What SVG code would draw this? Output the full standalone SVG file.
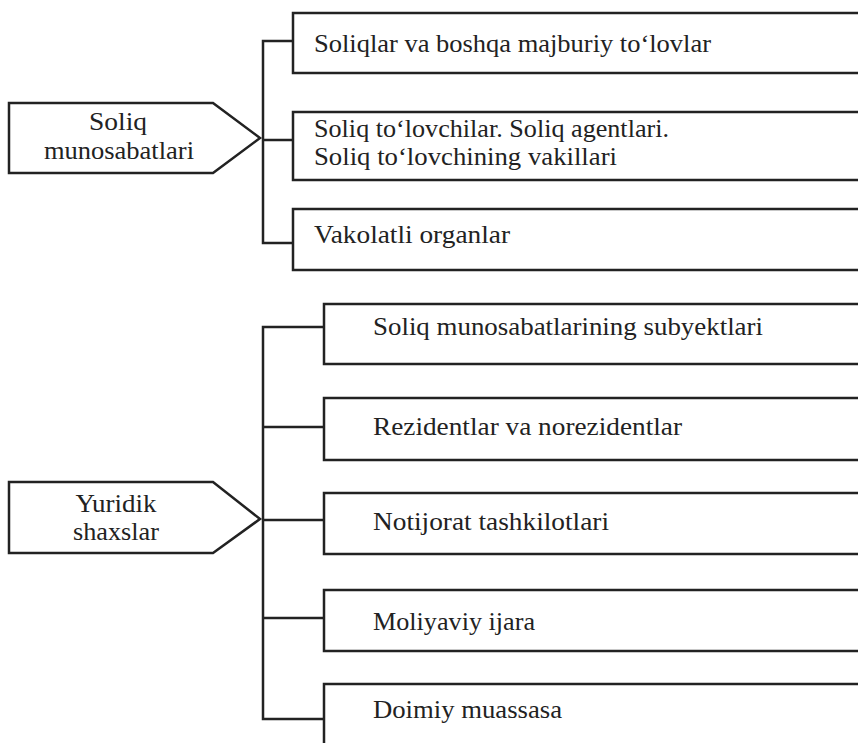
<svg xmlns="http://www.w3.org/2000/svg" width="858" height="743" viewBox="0 0 858 743">
  <style>
    .ln { fill: none; stroke: #222; stroke-width: 2.5; stroke-linejoin: miter; }
    .tx { font-family: 'Liberation Serif', 'DejaVu Serif', 'Times New Roman', Times, serif; font-size: 26px; fill: #222; }
    .mid { text-anchor: middle; }
  </style>
  <rect width="858" height="743" fill="#fff"/>

  <!-- connectors: brackets from each arrow node to its list -->
  <g id="connectors">
    <path class="ln" d="M293,41 H263 V243 H293 M263,140 H293"/>
    <path class="ln" d="M324,327 H263 V719 H324 M263,427 H324 M263,520 H324 M263,618 H324"/>
  </g>

  <!-- upper group -->
  <g id="soliq-munosabatlari">
    <path class="ln" d="M9,103 H213 L260,138 L213,173 H9 Z"/>
    <text class="tx mid" x="118" y="130" textLength="58" lengthAdjust="spacingAndGlyphs">Soliq</text>
    <text class="tx mid" x="119" y="159" textLength="150" lengthAdjust="spacingAndGlyphs">munosabatlari</text>
  </g>
  <g id="soliqlar">
    <path class="ln" d="M858,13 H293 V73 H858"/>
    <text class="tx" x="314" y="52" textLength="397" lengthAdjust="spacingAndGlyphs">Soliqlar va boshqa majburiy to‘lovlar</text>
  </g>
  <g id="soliq-tolovchilar">
    <path class="ln" d="M858,112 H293 V180 H858"/>
    <text class="tx" x="314" y="137" textLength="355" lengthAdjust="spacingAndGlyphs">Soliq to‘lovchilar. Soliq agentlari.</text>
    <text class="tx" x="314" y="165" textLength="303" lengthAdjust="spacingAndGlyphs">Soliq to‘lovchining vakillari</text>
  </g>
  <g id="vakolatli-organlar">
    <path class="ln" d="M858,209 H293 V270 H858"/>
    <text class="tx" x="314" y="243" textLength="196" lengthAdjust="spacingAndGlyphs">Vakolatli organlar</text>
  </g>

  <!-- lower group -->
  <g id="yuridik-shaxslar">
    <path class="ln" d="M9,482 H213 L260,519 L213,553 H9 Z"/>
    <text class="tx mid" x="116" y="512" textLength="81" lengthAdjust="spacingAndGlyphs">Yuridik</text>
    <text class="tx mid" x="116" y="540" textLength="86" lengthAdjust="spacingAndGlyphs">shaxslar</text>
  </g>
  <g id="subyektlar">
    <path class="ln" d="M858,304 H324 V364 H858"/>
    <text class="tx" x="373" y="335" textLength="390" lengthAdjust="spacingAndGlyphs">Soliq munosabatlarining subyektlari</text>
  </g>
  <g id="rezidentlar">
    <path class="ln" d="M858,398 H324 V460 H858"/>
    <text class="tx" x="373" y="435" textLength="309" lengthAdjust="spacingAndGlyphs">Rezidentlar va norezidentlar</text>
  </g>
  <g id="notijorat">
    <path class="ln" d="M858,493 H324 V554 H858"/>
    <text class="tx" x="373" y="530" textLength="236" lengthAdjust="spacingAndGlyphs">Notijorat tashkilotlari</text>
  </g>
  <g id="moliyaviy-ijara">
    <path class="ln" d="M858,590 H324 V651 H858"/>
    <text class="tx" x="373" y="630" textLength="162" lengthAdjust="spacingAndGlyphs">Moliyaviy ijara</text>
  </g>
  <g id="doimiy-muassasa">
    <path class="ln" d="M858,684 H324 V743"/>
    <text class="tx" x="373" y="718" textLength="189" lengthAdjust="spacingAndGlyphs">Doimiy muassasa</text>
  </g>
</svg>
